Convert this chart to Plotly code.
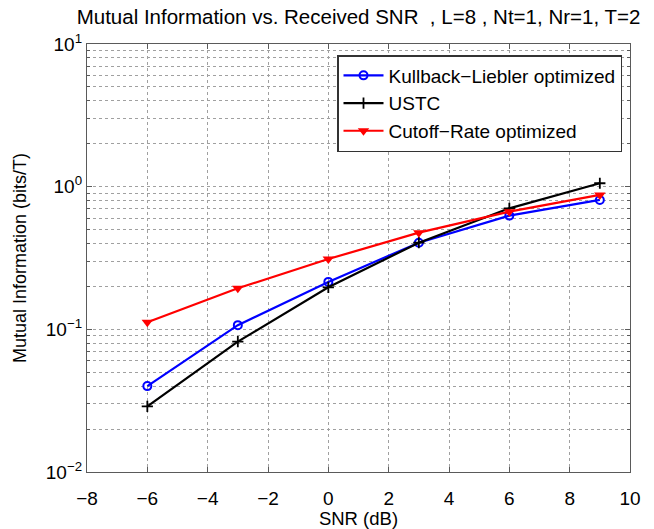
import plotly.graph_objects as go

snr_db = [-6, -3, 0, 3, 6, 9]
kl_optimized = [0.040, 0.107, 0.215, 0.405, 0.627, 0.807]
ustc = [0.0288, 0.082, 0.197, 0.405, 0.705, 1.057]
cutoff_optimized = [0.112, 0.194, 0.311, 0.476, 0.668, 0.875]

x_ticks = [-8, -6, -4, -2, 0, 2, 4, 6, 8, 10]
y_ticks = [0.01, 0.1, 1, 10]
y_tick_labels = ["10<sup>−2</sup>", "10<sup>−1</sup>", "10<sup>0</sup>", "10<sup>1</sup>"]

font_family = "Liberation Sans, Arial, sans-serif"

# plot-area edges in pixels
L, R, T, B = 87, 630, 44, 472
W, H = 654, 529

fig = go.Figure()
fig.add_trace(go.Scatter(
    x=snr_db, y=kl_optimized, name="Kullback−Liebler optimized",
    mode="lines+markers",
    line=dict(color="#0000ff", width=2.2),
    marker=dict(symbol="circle-open", size=8, color="#0000ff", line=dict(width=2)),
))
fig.add_trace(go.Scatter(
    x=snr_db, y=ustc, name="USTC",
    mode="lines+markers",
    line=dict(color="#000000", width=2.2),
    marker=dict(symbol="cross-thin", size=8, color="#000000", line=dict(width=1.8, color="#000000")),
))
fig.add_trace(go.Scatter(
    x=snr_db, y=cutoff_optimized, name="Cutoff−Rate optimized",
    mode="lines+markers",
    line=dict(color="#ff0000", width=2.2),
    marker=dict(symbol="triangle-down", size=10, color="#ff0000"),
))

grid_color = "#a0a0a0"
axis_color = "#5a5a5a"

fig.update_layout(
    width=W, height=529,
    margin=dict(l=L, r=W - R, t=T, b=H - B, autoexpand=False),
    paper_bgcolor="white", plot_bgcolor="white",
    font=dict(family=font_family, size=18, color="#000000"),
    title=dict(
        text="Mutual Information vs. Received SNR  , L=8 , Nt=1, Nr=1, T=2",
        x=(L + R) / 2 / W, xanchor="center", y=1 - 17 / H, yanchor="middle",
        font=dict(size=20.5),
    ),
    showlegend=True,
    legend=dict(
        x=(622 - L) / (R - L), xref="paper", xanchor="right",
        y=(B - 55) / (B - T), yref="paper", yanchor="top",
        bgcolor="white", bordercolor="#333333", borderwidth=1.5,
        font=dict(size=19), tracegroupgap=0, itemwidth=40,
    ),
)

fig.update_xaxes(
    range=[-8, 10], tickvals=x_ticks, ticktext=[str(v).replace("-", "−") for v in x_ticks],
    showline=True, linecolor=axis_color, linewidth=1.2, mirror="ticks",
    ticks="inside", ticklen=5, tickcolor=axis_color,
    showgrid=True, gridcolor=grid_color, griddash="dot", gridwidth=1,
    zeroline=False,
    tickfont=dict(size=19), ticklabelstandoff=9,
    title=dict(text="SNR (dB)", font=dict(size=18.5), standoff=4),
)

fig.update_yaxes(
    type="log", range=[-2, 1], tickvals=y_ticks, ticktext=y_tick_labels,
    showline=True, linecolor=axis_color, linewidth=1.2, mirror="ticks",
    ticks="inside", ticklen=5, tickcolor=axis_color,
    showgrid=True, gridcolor=grid_color, griddash="dot", gridwidth=1,
    minor=dict(
        tickvals=[m * 10 ** e for e in (-2, -1, 0) for m in range(2, 10)],
        ticks="inside", ticklen=3, tickcolor=axis_color,
        showgrid=True, gridcolor=grid_color, griddash="dot", gridwidth=1,
    ),
    zeroline=False,
    tickfont=dict(size=19),
    title=dict(text="Mutual Information (bits/T)", font=dict(size=18), standoff=14),
)

fig.write_html("out.html")
